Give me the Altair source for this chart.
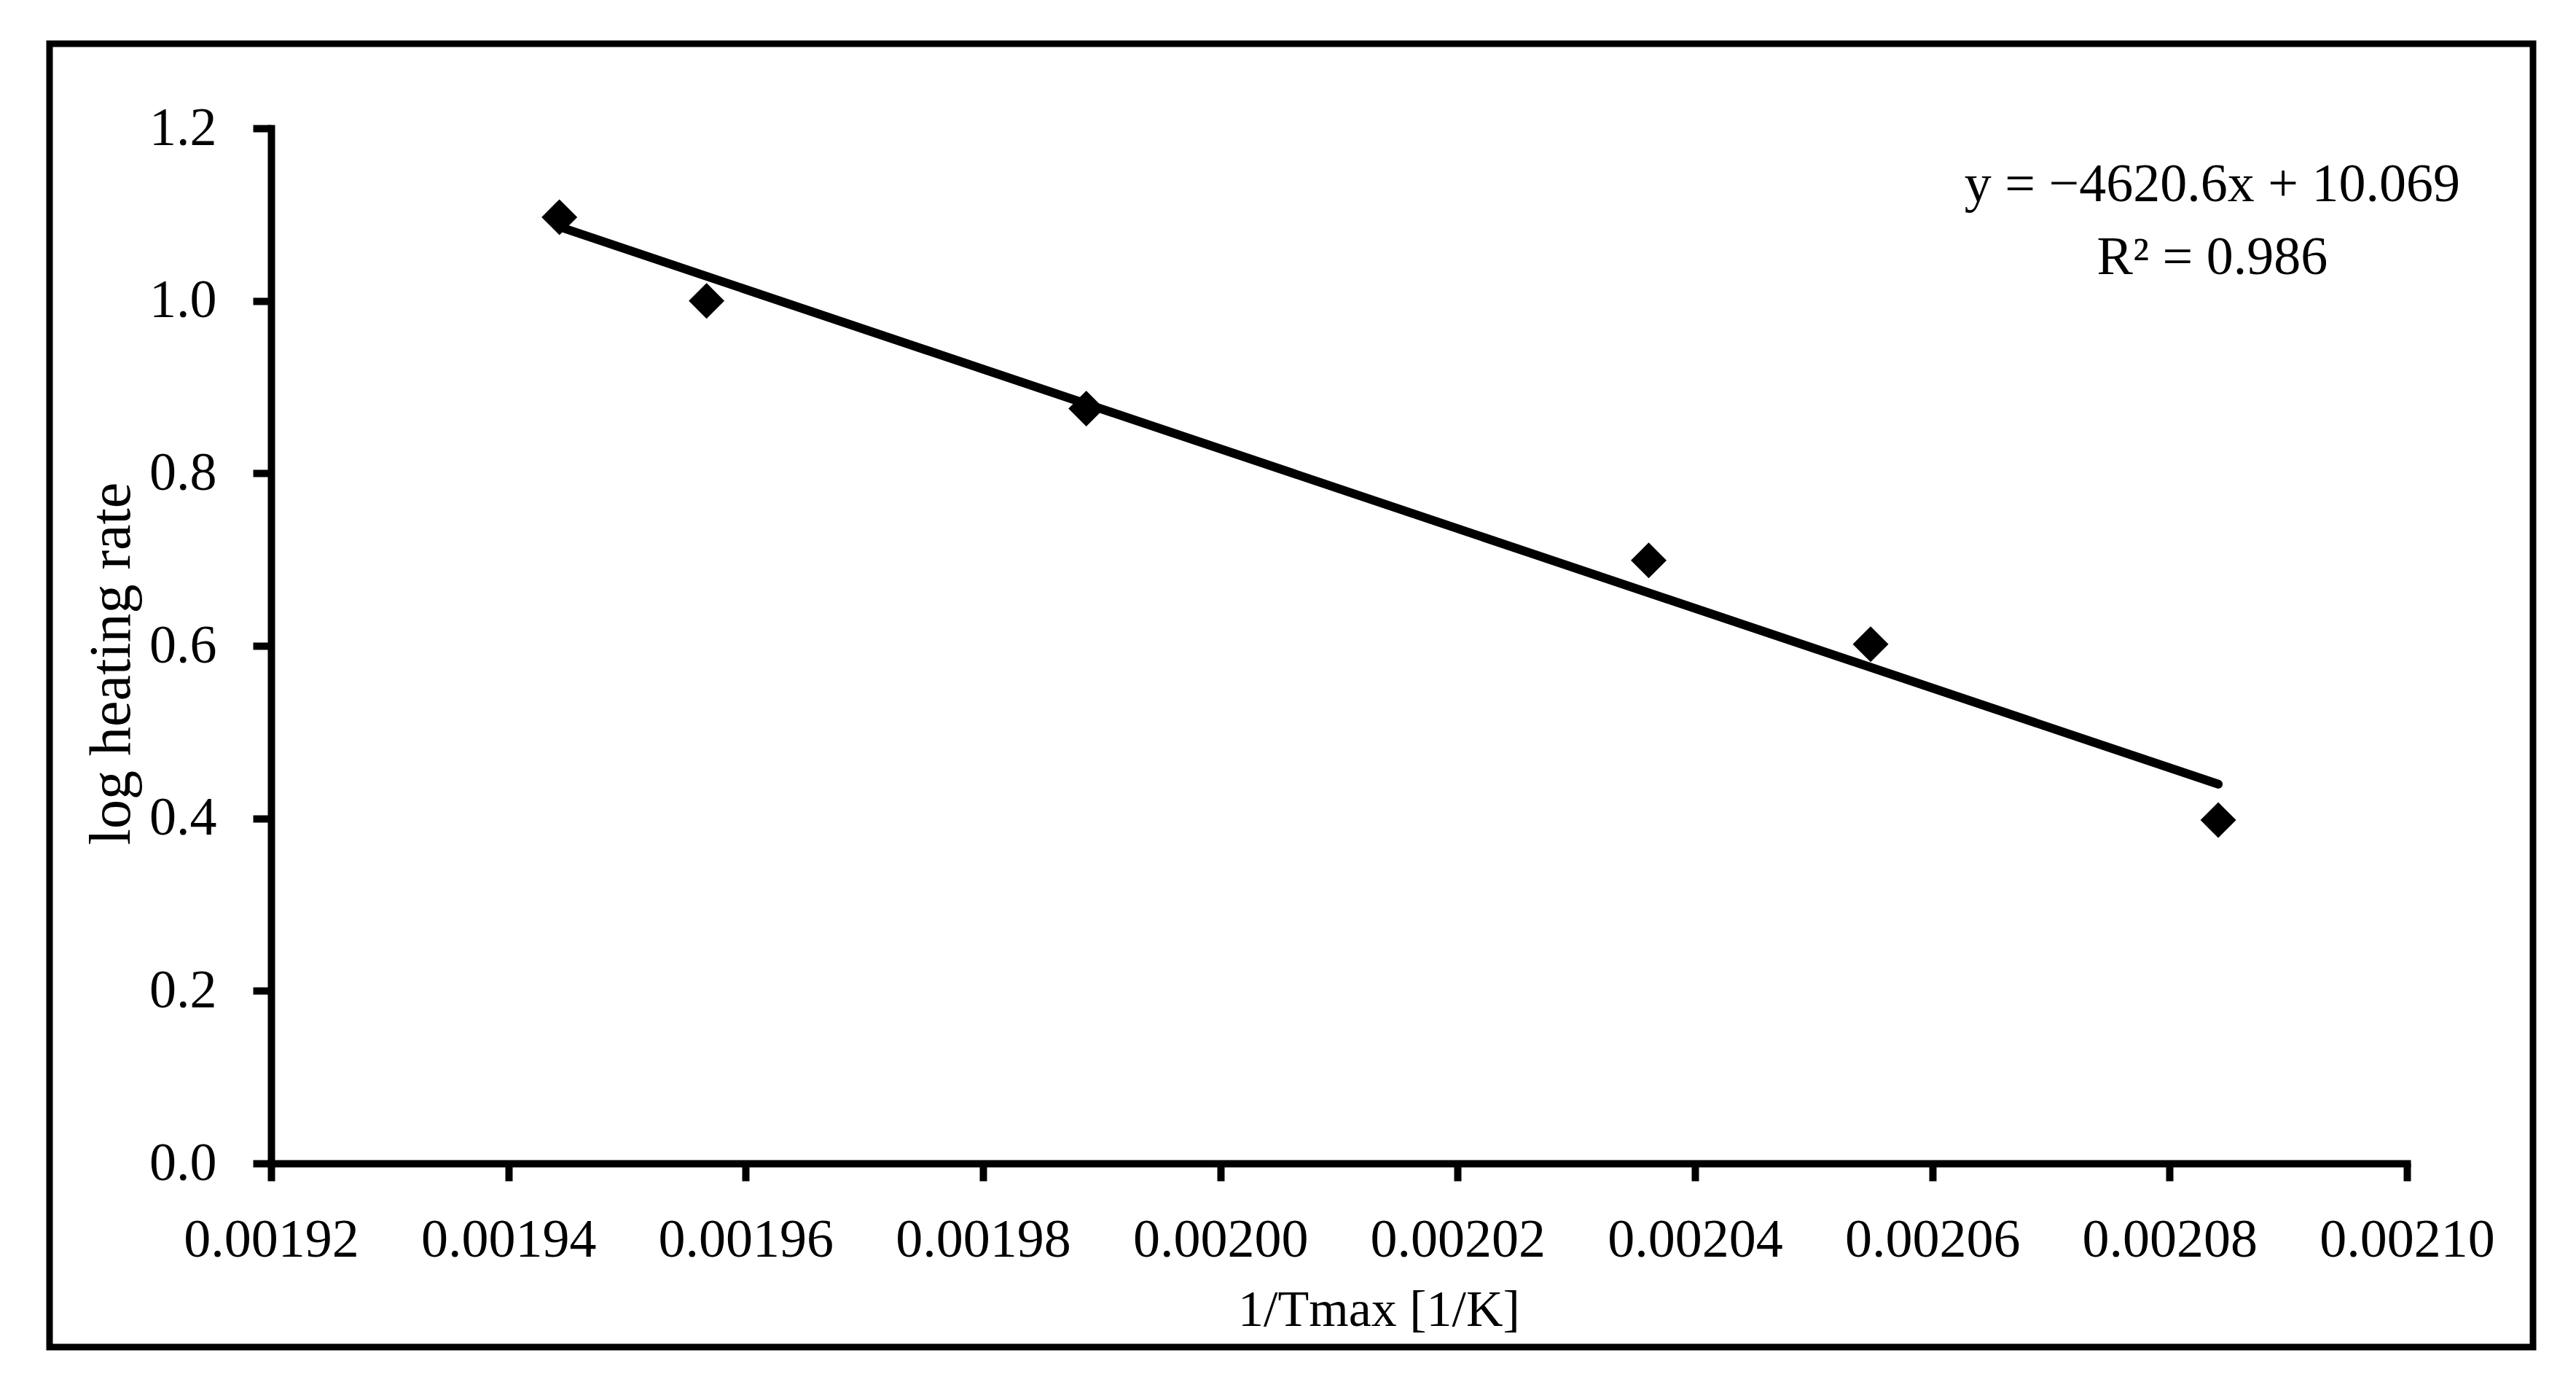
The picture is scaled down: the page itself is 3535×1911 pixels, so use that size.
import altair as alt
import pandas as pd

# ---- data ----
inv_tmax = [0.0019443, 0.0019567, 0.0019887, 0.0020361, 0.0020548, 0.0020841]
log_heating_rate = [1.097, 1.000, 0.875, 0.699, 0.602, 0.398]

x_ticks = [0.00192, 0.00194, 0.00196, 0.00198, 0.00200, 0.00202, 0.00204, 0.00206, 0.00208, 0.00210]
y_ticks = [0.0, 0.2, 0.4, 0.6, 0.8, 1.0, 1.2]

eq_lines = ["y = \u22124620.6x + 10.069", "R\u00b2 = 0.986"]
eq_x = [0.0020836, 0.0020836]
eq_y = [1.134, 1.050]

FONT = "Liberation Serif"
FS = 74

df = pd.DataFrame({"x": inv_tmax, "y": log_heating_rate})
ann = pd.DataFrame({"x": eq_x, "y": eq_y, "t": eq_lines})

xscale = alt.Scale(domain=[0.00192, 0.00210], nice=False, zero=False)
yscale = alt.Scale(domain=[0.0, 1.2], nice=False)

xaxis = alt.Axis(
    values=x_ticks, format=".5f", grid=False,
    labelFont=FONT, labelFontSize=FS, labelColor="black", labelPadding=45, labelFlush=False,
    labelLimit=1000, labelOverlap=False,
    tickSize=24, tickWidth=10, tickColor="black",
    domainWidth=10, domainColor="black", domainCap="square",
    title="1/Tmax [1/K]", titleFont=FONT, titleFontSize=70, titleFontWeight="normal",
    titleColor="black", titleX=1520, titleY=201, titleBaseline="middle", titleAlign="center",
)
yaxis = alt.Axis(
    values=y_ticks, format=".1f", grid=False,
    labelFont=FONT, labelFontSize=FS, labelColor="black", labelPadding=50, labelFlush=False,
    labelLimit=1000, labelOverlap=False,
    tickSize=25, tickWidth=10, tickColor="black",
    domainWidth=10, domainColor="black", domainCap="square",
    title="log heating rate", titleFont=FONT, titleFontSize=80, titleFontWeight="normal",
    titleColor="black", titleAngle=-90, titleX=-195, titleY=734,
    titleBaseline="alphabetic", titleAlign="center",
)

base = alt.Chart(df)

trend = base.transform_regression("x", "y").mark_line(
    color="black", strokeWidth=12, strokeCap="round"
).encode(
    x=alt.X("x:Q", scale=xscale, axis=xaxis),
    y=alt.Y("y:Q", scale=yscale, axis=yaxis),
)

points = base.mark_point(
    shape="diamond", size=2400, filled=True, color="black", opacity=1
).encode(
    x=alt.X("x:Q", scale=xscale),
    y=alt.Y("y:Q", scale=yscale),
)

labels = alt.Chart(ann).mark_text(
    font=FONT, fontSize=FS, color="black", align="center", baseline="middle"
).encode(
    x=alt.X("x:Q", scale=xscale),
    y=alt.Y("y:Q", scale=yscale),
    text="t:N",
)

frame = alt.Chart(pd.DataFrame({"k": [0]})).mark_rect(
    fill=None, stroke="black", strokeWidth=9, fillOpacity=0
).encode(
    x=alt.value(-304), x2=alt.value(3104), y=alt.value(-116), y2=alt.value(1672)
)

chart = alt.layer(frame, trend, points, labels).properties(
    width=2931, height=1420,
    autosize=alt.AutoSizeParams(type="none"),
    padding={"left": 364, "top": 168, "right": 200, "bottom": 270},
    background="white",
).configure_view(stroke=None)

chart.save("out.html", embed_options={"renderer": "svg", "actions": False})
